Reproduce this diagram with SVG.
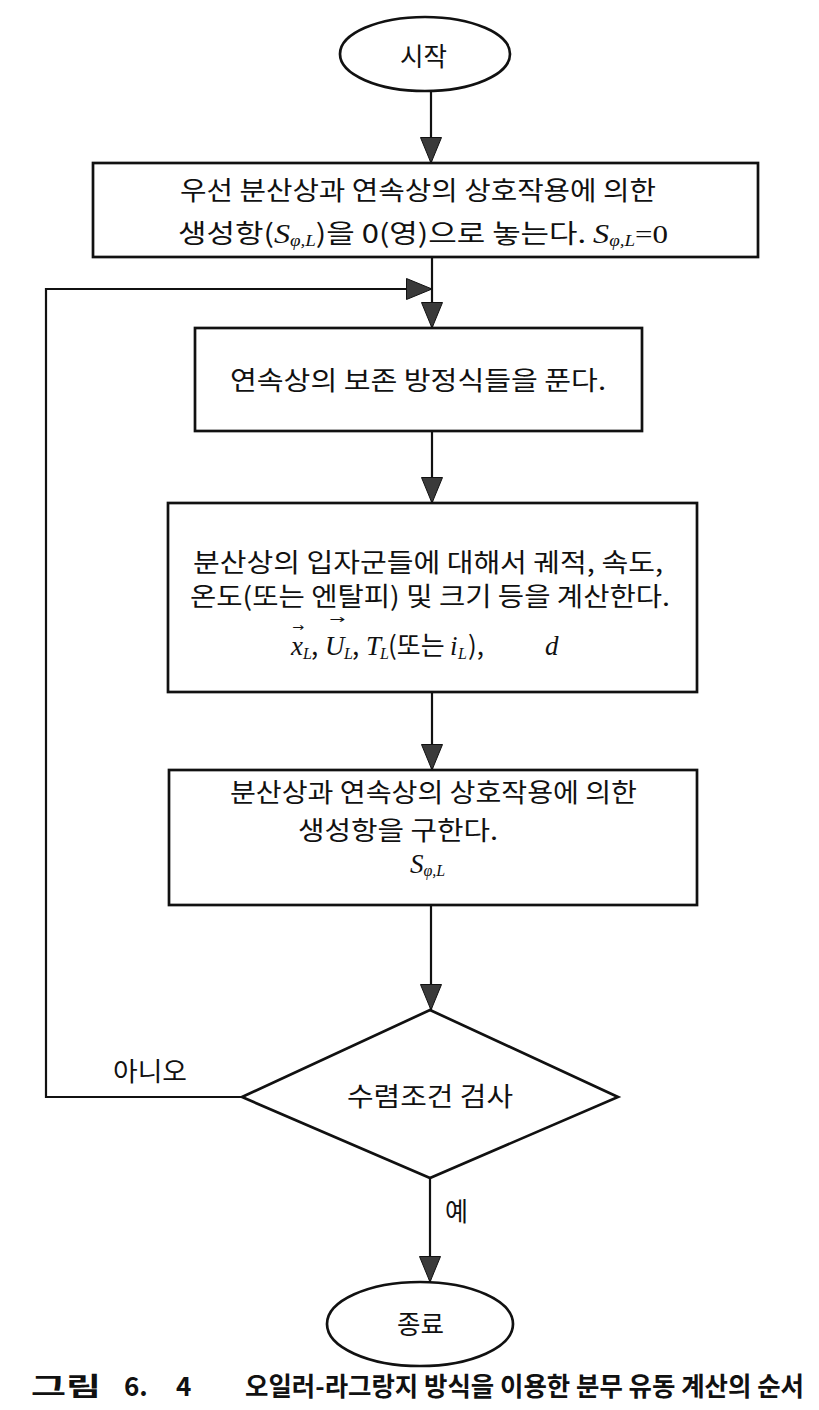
<svg xmlns="http://www.w3.org/2000/svg" width="819" height="1410" viewBox="0 0 819 1410">
<style>
.bg{fill:#ffffff}
.shape{fill:none;stroke:#111;stroke-width:2.7}
.k{font-family:"Noto Sans CJK KR","Noto Sans",sans-serif;font-size:26px;fill:#111}
.m{font-family:"Liberation Serif",serif;font-style:italic;font-size:27px}
.mu{font-family:"Liberation Serif",serif;font-size:26px}
.ms{font-family:"Liberation Serif",serif;font-style:italic;font-size:16px}
.vec{font-family:"DejaVu Sans",sans-serif;font-size:12px;fill:#111}
.cap{font-family:"Noto Sans CJK KR",sans-serif;font-size:26px;font-weight:bold;fill:#111}
.c{fill:none;stroke:#111;stroke-width:2.2}
</style>
<defs>
<marker id="ah" viewBox="0 0 26 22" refX="26" refY="11" markerWidth="26" markerHeight="22" orient="auto" markerUnits="userSpaceOnUse">
<path d="M0.5,0.5 L26,11 L0.5,21.5 z" fill="#3a3a3a" stroke="#111" stroke-width="1"/>
</marker>
</defs>
<rect class="bg" x="0" y="0" width="819" height="1410"/>
<g id="connectors">
<line class="c" x1="431" y1="92" x2="431" y2="163" marker-end="url(#ah)"/>
<line class="c" x1="432" y1="257" x2="432" y2="328" marker-end="url(#ah)"/>
<polyline class="c" points="242,1097 46,1097 46,289 432,289" marker-end="url(#ah)"/>
<line class="c" x1="432" y1="431" x2="432" y2="503" marker-end="url(#ah)"/>
<line class="c" x1="432" y1="692" x2="432" y2="770" marker-end="url(#ah)"/>
<line class="c" x1="431" y1="905" x2="431" y2="1010" marker-end="url(#ah)"/>
<line class="c" x1="430" y1="1178" x2="430" y2="1282" marker-end="url(#ah)"/>
<text class="k" x="113" y="1081" textLength="74" lengthAdjust="spacingAndGlyphs">아니오</text>
<text class="k" x="445" y="1221" textLength="23" lengthAdjust="spacingAndGlyphs">예</text>
</g>
<g id="start">
<ellipse class="shape" cx="425" cy="54" rx="85" ry="37"/>
<text class="k" x="400" y="66" textLength="47" lengthAdjust="spacingAndGlyphs">시작</text>
</g>
<g id="init">
<rect class="shape" x="93" y="163" width="665" height="94"/>
<text class="k" x="180" y="200" textLength="476" lengthAdjust="spacingAndGlyphs">우선 분산상과 연속상의 상호작용에 의한</text>
<text class="k" x="178" y="243" textLength="490" lengthAdjust="spacingAndGlyphs">생성항(<tspan class="m">S</tspan><tspan class="ms" dy="3">φ,L</tspan><tspan dy="-3">)을 0(영)으로 놓는다. </tspan><tspan class="m"> S</tspan><tspan class="ms" dy="3">φ,L</tspan><tspan class="mu" dy="-3">=0</tspan></text>
</g>
<g id="continuous">
<rect class="shape" x="195" y="328" width="447" height="103"/>
<text class="k" x="230" y="390" textLength="376" lengthAdjust="spacingAndGlyphs">연속상의 보존 방정식들을 푼다.</text>
</g>
<g id="dispersed">
<rect class="shape" x="168" y="503" width="529" height="189"/>
<text class="k" x="193" y="572" textLength="470" lengthAdjust="spacingAndGlyphs">분산상의 입자군들에 대해서 궤적, 속도,</text>
<text class="k" x="190" y="606" textLength="480" lengthAdjust="spacingAndGlyphs">온도(또는 엔탈피) 및 크기 등을 계산한다.</text>
<text class="k" y="655"><tspan class="m" x="291">x</tspan><tspan class="ms" x="303" dy="4">L</tspan><tspan x="311" dy="-4">,</tspan><tspan class="m" x="325">U</tspan><tspan class="ms" x="344" dy="4">L</tspan><tspan x="352" dy="-4">,</tspan><tspan class="m" x="366">T</tspan><tspan class="ms" x="380" dy="4">L</tspan><tspan x="388" dy="-4">(또는</tspan><tspan class="m" x="450">i</tspan><tspan class="ms" x="458" dy="4">L</tspan><tspan x="468" dy="-4">),</tspan><tspan class="m" x="545">d</tspan></text>
<text class="vec" x="292" y="631" textLength="12" lengthAdjust="spacingAndGlyphs">→</text>
<text class="vec" x="329" y="623" textLength="16" lengthAdjust="spacingAndGlyphs">→</text>
</g>
<g id="source">
<rect class="shape" x="169" y="770" width="528" height="135"/>
<text class="k" x="230" y="802" textLength="407" lengthAdjust="spacingAndGlyphs">분산상과 연속상의 상호작용에 의한</text>
<text class="k" x="298" y="840" textLength="200" lengthAdjust="spacingAndGlyphs">생성항을 구한다.</text>
<text class="k" x="410" y="873"><tspan class="m">S</tspan><tspan class="ms" dy="3">φ,L</tspan></text>
</g>
<g id="check">
<polygon class="shape" points="430,1010 618,1097 430,1178 242,1097"/>
<text class="k" x="347" y="1106" textLength="166" lengthAdjust="spacingAndGlyphs">수렴조건 검사</text>
</g>
<g id="end">
<ellipse class="shape" cx="420" cy="1324" rx="93" ry="42"/>
<text class="k" x="397" y="1334" textLength="47" lengthAdjust="spacingAndGlyphs">종료</text>
</g>
<g id="caption">
<text class="cap" y="1396"><tspan x="31" textLength="70" lengthAdjust="spacingAndGlyphs">그림</tspan><tspan x="124">6.</tspan><tspan x="176">4</tspan></text>
<text class="cap" x="245" y="1396" textLength="559" lengthAdjust="spacingAndGlyphs">오일러-라그랑지 방식을 이용한 분무 유동 계산의 순서</text>
</g>
</svg>
